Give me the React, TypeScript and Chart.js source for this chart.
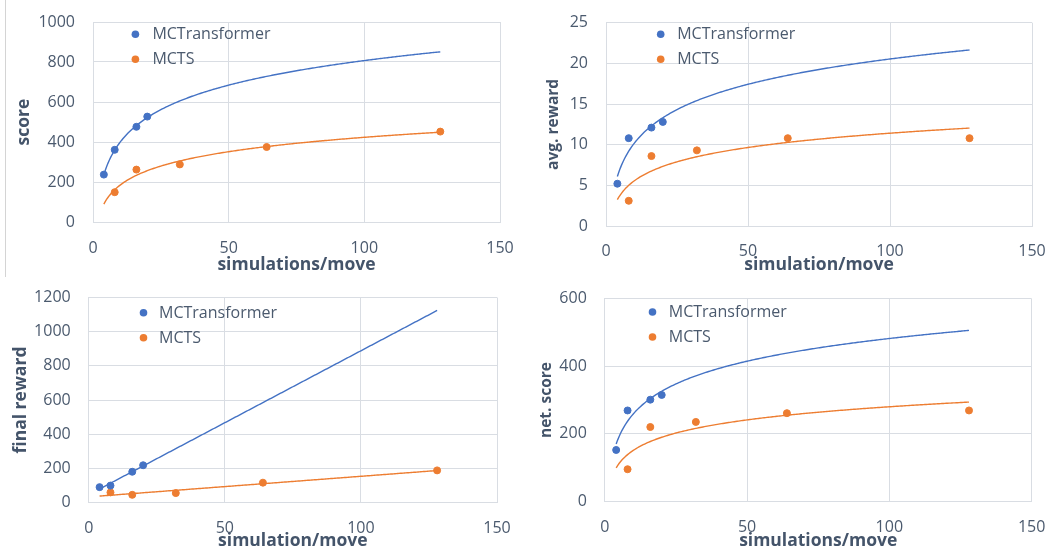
import React, { useEffect, useRef } from "react";
import { Chart, registerables } from "chart.js";

Chart.register(...registerables);

// ---------- data ----------
const seriesLabels = ["MCTransformer", "MCTS"];
const xTickValues = [0, 50, 100, 150];
const trendRange = [4, 128];

// score
const scoreTransformerX = [4, 8, 16, 20];
const scoreTransformerY = [237, 361, 476, 527];
const scoreMctsX = [8, 16, 32, 64, 128];
const scoreMctsY = [149, 262, 288, 375, 452];

// avg. reward
const avgRewardTransformerX = [4, 8, 16, 20];
const avgRewardTransformerY = [5.2, 10.8, 12.1, 12.8];
const avgRewardMctsX = [8, 16, 32, 64, 128];
const avgRewardMctsY = [3.1, 8.6, 9.3, 10.8, 10.8];

// final reward
const finalRewardTransformerX = [4, 8, 16, 20];
const finalRewardTransformerY = [90, 99, 180, 218];
const finalRewardMctsX = [8, 16, 32, 64, 128];
const finalRewardMctsY = [59, 45, 55, 116, 188];

// net. score
const netScoreTransformerX = [4, 8, 16, 20];
const netScoreTransformerY = [152, 269, 301, 315];
const netScoreMctsX = [8, 16, 32, 64, 128];
const netScoreMctsY = [95, 220, 235, 261, 269];

// ---------- style ----------
const BLUE = "#4472C4";
const ORANGE = "#ED7D31";
const GRID = "#D9DDE3";
const TICK_COLOR = "#4B5A6E";
const TITLE_COLOR = "#44546A";
const FONT = "'Open Sans', 'Noto Sans', sans-serif";
const W = 529;
const H = 276;

type Panel = {
  ox: number;
  oy: number;
  left: number;
  right: number;
  top: number;
  bottom: number;
  yMax: number;
  yStep: number;
  yTitle: string;
  yTitleSize: number;
  yTitlePad: number;
  xTitle: string;
  xTitlePad: number;
  xTickPad: number;
  legendDx: number;
  legendDy: number;
  textDx: number;
  trend: "log" | "linear";
  tx: number[];
  ty: number[];
  mx: number[];
  my: number[];
};

const panels: Panel[] = [
  {
    ox: 0, oy: 0, left: 93, right: 500, top: 22, bottom: 222,
    yMax: 1000, yStep: 200, yTitle: "score", yTitleSize: 17.5, yTitlePad: 13.6,
    xTitle: "simulations/move", xTitlePad: 0.6, xTickPad: 16.4,
    legendDx: 42.4, legendDy: 12.3, textDx: 17, trend: "log",
    tx: scoreTransformerX, ty: scoreTransformerY, mx: scoreMctsX, my: scoreMctsY,
  },
  {
    ox: 529, oy: 0, left: 77, right: 503, top: 22.7, bottom: 226,
    yMax: 25, yStep: 5, yTitle: "avg. reward", yTitleSize: 15.5, yTitlePad: 14.9,
    xTitle: "simulation/move", xTitlePad: 0, xTickPad: 16.1,
    legendDx: 54.7, legendDy: 11.6, textDx: 16.5, trend: "log",
    tx: avgRewardTransformerX, ty: avgRewardTransformerY, mx: avgRewardMctsX, my: avgRewardMctsY,
  },
  {
    ox: 0, oy: 276, left: 88.7, right: 497, top: 21.5, bottom: 226.5,
    yMax: 1200, yStep: 200, yTitle: "final reward", yTitleSize: 17.5, yTitlePad: 11,
    xTitle: "simulation/move", xTitlePad: 0.3, xTickPad: 16.6,
    legendDx: 54.8, legendDy: 15.2, textDx: 15.5, trend: "linear",
    tx: finalRewardTransformerX, ty: finalRewardTransformerY, mx: finalRewardMctsX, my: finalRewardMctsY,
  },
  {
    ox: 529, oy: 276, left: 75.8, right: 502.6, top: 22.7, bottom: 225.3,
    yMax: 600, yStep: 200, yTitle: "net. score", yTitleSize: 15.5, yTitlePad: 8.1,
    xTitle: "simulations/move", xTitlePad: 0.3, xTickPad: 16.4,
    legendDx: 47.7, legendDy: 13.3, textDx: 16.3, trend: "log",
    tx: netScoreTransformerX, ty: netScoreTransformerY, mx: netScoreMctsX, my: netScoreMctsY,
  },
];

// least-squares trendline (Excel style) computed from the series
function trendline(xs: number[], ys: number[], kind: "log" | "linear") {
  const f = (x: number) => (kind === "log" ? Math.log(x) : x);
  const t = xs.map(f);
  const n = xs.length;
  const mt = t.reduce((a, b) => a + b, 0) / n;
  const my = ys.reduce((a, b) => a + b, 0) / n;
  let sxx = 0;
  let sxy = 0;
  for (let i = 0; i < n; i++) {
    sxx += (t[i] - mt) * (t[i] - mt);
    sxy += (t[i] - mt) * (ys[i] - my);
  }
  const a = sxy / sxx;
  const b = my - a * mt;
  const pts: { x: number; y: number }[] = [];
  for (let x = trendRange[0]; x <= trendRange[1] + 1e-9; x += 0.5) {
    pts.push({ x, y: a * f(x) + b });
  }
  return pts;
}

function toPoints(xs: number[], ys: number[]) {
  return xs.map((x, i) => ({ x, y: ys[i] }));
}

function PanelChart({ p }: { p: Panel }) {
  const ref = useRef<HTMLCanvasElement | null>(null);
  useEffect(() => {
    if (!ref.current) return;
    const colors = [BLUE, ORANGE];
    const legendPlugin = {
      id: "insideLegend",
      afterDraw(chart: any) {
        const { ctx, chartArea } = chart;
        ctx.save();
        seriesLabels.forEach((label, i) => {
          const x = chartArea.left + p.legendDx;
          const y = chartArea.top + p.legendDy + i * 25;
          ctx.beginPath();
          ctx.arc(x, y, 3.8, 0, Math.PI * 2);
          ctx.fillStyle = colors[i];
          ctx.fill();
          ctx.font = `16px ${FONT}`;
          ctx.fillStyle = TICK_COLOR;
          ctx.textAlign = "left";
          ctx.textBaseline = "middle";
          ctx.fillText(label, x + p.textDx, y + 0.5);
        });
        ctx.restore();
      },
    };
    const chart = new Chart(ref.current, {
      type: "scatter",
      data: {
        datasets: [
          {
            label: seriesLabels[0] + " trend",
            data: trendline(p.tx, p.ty, p.trend),
            showLine: true,
            borderColor: BLUE,
            borderWidth: 1.4,
            pointRadius: 0,
            order: 0,
          },
          {
            label: seriesLabels[1] + " trend",
            data: trendline(p.mx, p.my, p.trend),
            showLine: true,
            borderColor: ORANGE,
            borderWidth: 1.4,
            pointRadius: 0,
            order: 0,
          },
          {
            label: seriesLabels[0],
            data: toPoints(p.tx, p.ty),
            backgroundColor: BLUE,
            borderColor: BLUE,
            borderWidth: 1,
            pointRadius: 3.5,
            order: 1,
          },
          {
            label: seriesLabels[1],
            data: toPoints(p.mx, p.my),
            backgroundColor: ORANGE,
            borderColor: ORANGE,
            borderWidth: 1,
            pointRadius: 3.5,
            order: 1,
          },
        ],
      },
      options: {
        animation: false,
        responsive: false,
        maintainAspectRatio: false,
        devicePixelRatio: 1,
        layout: { padding: { left: 0, top: p.top, right: W - p.right, bottom: 0 } },
        plugins: { legend: { display: false }, tooltip: { enabled: false } },
        scales: {
          x: {
            type: "linear",
            min: 0,
            max: 150,
            afterBuildTicks: (s: any) => {
              s.ticks = xTickValues.map((v) => ({ value: v }));
            },
            ticks: {
              padding: p.xTickPad,
              color: TICK_COLOR,
              font: { family: FONT, size: 16 },
              callback: (v: any) => String(v),
            },
            grid: { color: GRID, drawTicks: false, lineWidth: 1 },
            border: { color: GRID, width: 1 },
            title: {
              display: true,
              text: p.xTitle,
              color: TITLE_COLOR,
              font: { family: FONT, size: 17.5, weight: "bold" },
              padding: { top: 0, bottom: p.xTitlePad },
            },
            afterFit: (s: any) => {
              s.height = H - p.bottom;
              s.paddingLeft = 0;
              s.paddingRight = 0;
            },
          },
          y: {
            type: "linear",
            min: 0,
            max: p.yMax,
            ticks: {
              stepSize: p.yStep,
              padding: 18,
              color: TICK_COLOR,
              font: { family: FONT, size: 16 },
              callback: (v: any) => String(v),
            },
            grid: { color: GRID, drawTicks: false, lineWidth: 1 },
            border: { color: GRID, width: 1 },
            title: {
              display: true,
              text: p.yTitle,
              color: TITLE_COLOR,
              font: { family: FONT, size: p.yTitleSize, weight: "bold" },
              padding: { top: p.yTitlePad, bottom: 0 },
            },
            afterFit: (s: any) => {
              s.width = p.left;
              s.paddingTop = 0;
              s.paddingBottom = 0;
            },
          },
        },
      },
      plugins: [legendPlugin],
    } as any);
    return () => chart.destroy();
  }, [p]);
  return (
    <canvas
      ref={ref}
      width={W}
      height={H}
      style={{ position: "absolute", left: p.ox, top: p.oy, width: W, height: H, display: "block" }}
    />
  );
}

export default function App() {
  return (
    <div
      style={{
        position: "absolute",
        left: 0,
        top: 0,
        width: 1058,
        height: 552,
        background: "#ffffff",
        overflow: "hidden",
      }}
    >
      <div style={{ position: "absolute", left: 5, top: 0, width: 1, height: 277, background: "#D4D4D4" }} />
      {panels.map((p, i) => (
        <PanelChart key={i} p={p} />
      ))}
    </div>
  );
}
